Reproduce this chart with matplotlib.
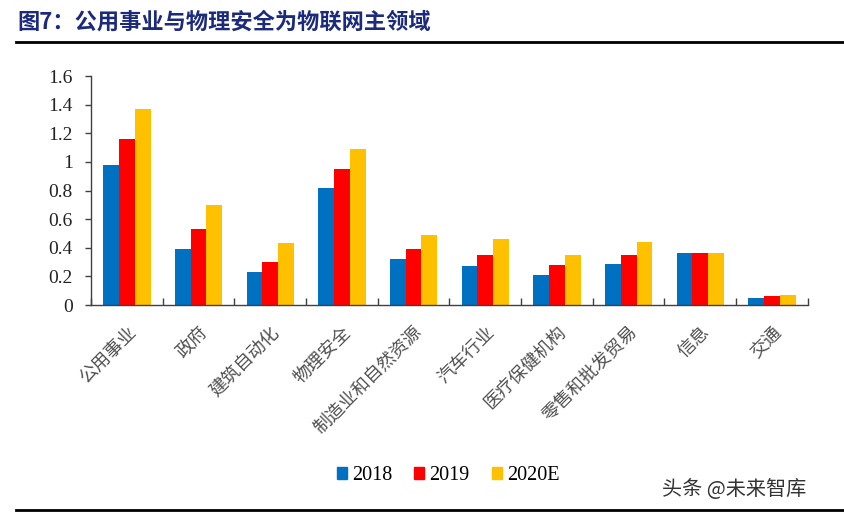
import numpy as np
import matplotlib
matplotlib.use("Agg")
from matplotlib import pyplot as plt
from matplotlib.lines import Line2D
from matplotlib.patches import Patch

plt.rcParams['font.family'] = ['Liberation Serif', 'Noto Sans CJK SC']

categories = ["公用事业", "政府", "建筑自动化", "物理安全", "制造业和自然资源",
              "汽车行业", "医疗保健机构", "零售和批发贸易", "信息", "交通"]
years = ["2018", "2019", "2020E"]
v2018 = [0.98, 0.39, 0.23, 0.82, 0.32, 0.27, 0.21, 0.29, 0.36, 0.05]
v2019 = [1.16, 0.53, 0.30, 0.95, 0.39, 0.35, 0.28, 0.35, 0.36, 0.06]
v2020 = [1.37, 0.70, 0.43, 1.09, 0.49, 0.46, 0.35, 0.44, 0.36, 0.07]
colors = ["#0070C0", "#FF0000", "#FFC000"]

fig = plt.figure(figsize=(8.45, 5.14), dpi=100)
ax = fig.add_axes([0.1077, 0.4066, 0.8483, 0.4455])

x = np.arange(len(categories))
w = 0.22
for i, vals in enumerate([v2018, v2019, v2020]):
    ax.bar(x + (i - 1) * w, vals, width=w, color=colors[i], label=years[i])

ax.set_xlim(-0.5, len(categories) - 0.5)
ax.set_ylim(0, 1.6)
ax.set_yticks(np.arange(0, 1.61, 0.2))
ax.set_yticklabels(["0", "0.2", "0.4", "0.6", "0.8", "1", "1.2", "1.4", "1.6"])
ax.tick_params(axis='y', direction='out', length=4, width=1, color='#404040',
               labelsize=14, labelcolor='#222222', pad=9)

ax.set_xticks(x)
ax.set_xticklabels(categories, rotation=45, ha='right', va='top',
                   rotation_mode='anchor', fontsize=13, color='#505050',
                   family=['Noto Sans CJK SC'])
ax.tick_params(axis='x', which='major', length=0, pad=13)
ax.set_xticks(np.arange(-0.5, len(categories), 1), minor=True)
ax.tick_params(axis='x', which='minor', direction='in', length=5, width=1, color='#404040')

for s in ['top', 'right']:
    ax.spines[s].set_visible(False)
for s in ['left', 'bottom']:
    ax.spines[s].set_color('#404040')
    ax.spines[s].set_linewidth(1)

handles = [Patch(color=c) for c in colors]
fig.legend(handles, years, loc='center', bbox_to_anchor=(0.53, 0.075),
           ncol=3, frameon=False, fontsize=14.5, handlelength=0.5, handleheight=0.5,
           handletextpad=0.25, columnspacing=1.1)

fig.text(0.021, 0.957, "图7：公用事业与物理安全为物联网主领域", fontsize=16, fontweight='bold',
         color='#1C2A7E', va='center', ha='left', family=['Noto Sans CJK SC'])
fig.add_artist(Line2D([0.019, 1.0], [0.918, 0.918], color='black', lw=2))
fig.add_artist(Line2D([0.019, 1.0], [0.007, 0.007], color='black', lw=2))
fig.text(0.783, 0.047, "头条 @未来智库", fontsize=14.5, color='#333333',
         va='center', ha='left', family=['Noto Sans CJK SC'])

fig.savefig("out.png", dpi=100, facecolor='white')
